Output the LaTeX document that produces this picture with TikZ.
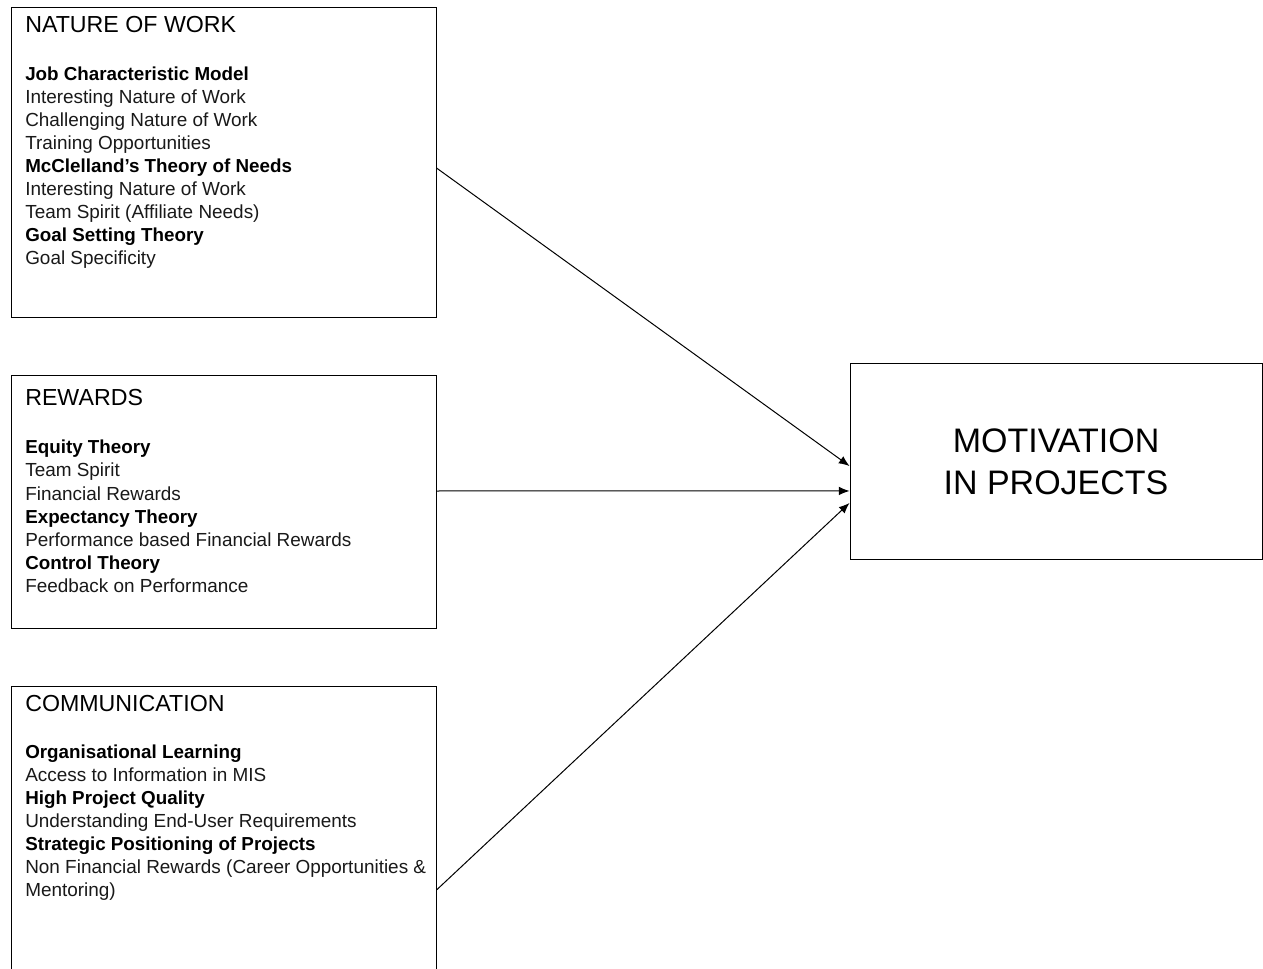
\documentclass[tikz,border=0pt]{standalone}
\usepackage{fontspec}
\setmainfont{Liberation Sans}
\usetikzlibrary{arrows.meta}
\tikzset{
  box/.style={draw=black, line width=0.75pt, inner sep=0pt, fill=none},
  hd/.style={anchor=base west, inner sep=0pt, font=\fontsize{17.4}{20}\selectfont},
  th/.style={anchor=base west, inner sep=0pt, font=\bfseries\fontsize{14.1}{17}\selectfont},
  tx/.style={anchor=base west, inner sep=0pt, font=\fontsize{14.2}{17}\selectfont, text=black!90},
  arr/.style={line width=0.75pt, -{Latex[length=8pt,width=6.5pt]}},
}
\begin{document}
\begin{tikzpicture}[x=0.75pt,y=-0.75pt]
\useasboundingbox (0,0) rectangle (1263,969);
\clip (0,0) rectangle (1263,969);
\fill[white] (0,0) rectangle (1263,969);
% boxes
\node[box, minimum width=318.75pt, minimum height=232.5pt] (nw) at (223.5,163) {};
\node[box, minimum width=318.75pt, minimum height=189pt] (rw) at (223.5,502) {};
\node[box, minimum width=318.75pt, minimum height=240pt] (cm) at (223.5,846) {};
\node[box, minimum width=309pt, minimum height=146.25pt, align=center,
      font=\fontsize{25.5}{31.5}\selectfont] (mot) at (1056,461.5) {MOTIVATION\\IN PROJECTS};
% nature of work
\node[hd] (nw0) at (25,33) {NATURE OF WORK};
\node[th] (nw1) at (25,80.5) {Job Characteristic Model};
\node[tx] (nw2) at (25,103.5) {Interesting Nature of Work};
\node[tx] (nw3) at (25,126.5) {Challenging Nature of Work};
\node[tx] (nw4) at (25,149.5) {Training Opportunities};
\node[th] (nw5) at (25,172.5) {McClelland’s Theory of Needs};
\node[tx] (nw6) at (25,195.5) {Interesting Nature of Work};
\node[tx] (nw7) at (25,218.5) {Team Spirit (Affiliate Needs)};
\node[th] (nw8) at (25,241.5) {Goal Setting Theory};
\node[tx] (nw9) at (25,264.5) {Goal Specificity};
% rewards
\node[hd] (rw0) at (25,405.5) {REWARDS};
\node[th] (rw1) at (25,454) {Equity Theory};
\node[tx] (rw2) at (25,477) {Team Spirit};
\node[tx] (rw3) at (25,500) {Financial Rewards};
\node[th] (rw4) at (25,523) {Expectancy Theory};
\node[tx] (rw5) at (25,546) {Performance based Financial Rewards};
\node[th] (rw6) at (25,569) {Control Theory};
\node[tx] (rw7) at (25,592) {Feedback on Performance};
% communication
\node[hd] (cm0) at (25,711) {COMMUNICATION};
\node[th] (cm1) at (25,758) {Organisational Learning};
\node[tx] (cm2) at (25,781) {Access to Information in MIS};
\node[th] (cm3) at (25,804) {High Project Quality};
\node[tx] (cm4) at (25,827) {Understanding End-User Requirements};
\node[th] (cm5) at (25,850) {Strategic Positioning of Projects};
\node[tx] (cm6) at (25,873) {Non Financial Rewards (Career Opportunities \&};
\node[tx] (cm7) at (25,896) {Mentoring)};
% connectors
\draw[arr] ([yshift=-3.75pt]nw.east) -- ([yshift=-3.4pt]mot.west);
\draw[arr] ([yshift=8.25pt]rw.east) -- ([yshift=-22.1pt]mot.west);
\draw[arr] ([yshift=-33pt]cm.east) -- ([yshift=-31.1pt]mot.west);
\end{tikzpicture}
\end{document}
